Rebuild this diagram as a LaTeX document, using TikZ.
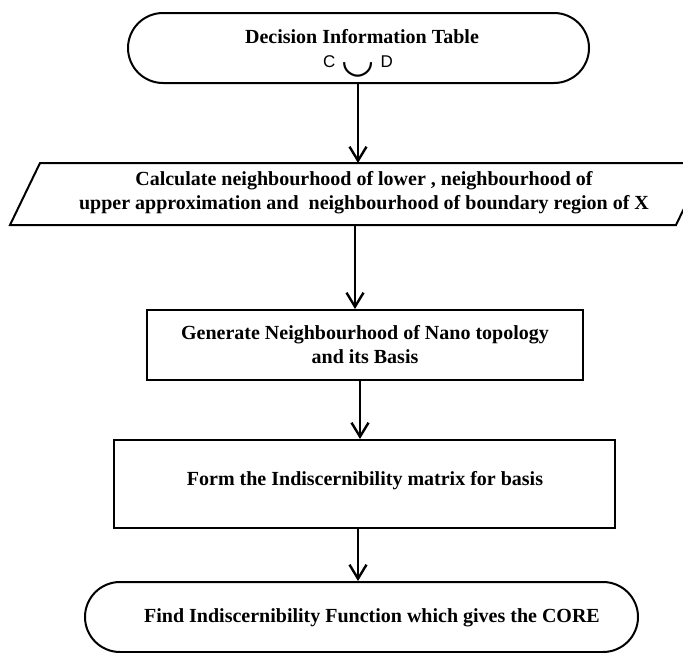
\documentclass[tikz,border=0pt]{standalone}
\usepackage{graphicx}
\usepackage{fontspec}
\setmainfont{Liberation Serif}
\setsansfont{Liberation Sans}
\newfontfamily\cupfont{DejaVu Sans}
\usetikzlibrary{shapes.misc,arrows.meta}

\begin{document}
\begin{tikzpicture}[x=1pt,y=-1pt,
    line width=2pt,
    terminal/.style={draw,rounded rectangle,minimum height=70,inner sep=0pt},
    process/.style={draw,rectangle,inner sep=0pt},
    boxtext/.style={font=\bfseries\fontsize{20}{24}\selectfont,align=center},
    flow/.style={-{Straight Barb[length=14pt,width=17pt]},line width=2.4pt}]
    \useasboundingbox (0,0) rectangle (683,653);

    \node[terminal,minimum width=461] (table) at (358.5,48) {};
    \node[boxtext] (tabletext) at (362,37) {Decision Information Table};
    \node[font=\sffamily\fontsize{17}{20}\selectfont,anchor=base,inner sep=0pt] (cud) at (358,67)
      {C\hspace{6pt}\smash{\raisebox{-5pt}{\cupfont\fontsize{38}{38}\selectfont ◡}}\hspace{6pt}D};

    % slanted input box
    \coordinate (calctop) at (358,163);
    \coordinate (calcbot) at (355,225);
    \draw (40,163) -- (706,163) -- (676,225) -- (10,225) -- cycle;
    \node[boxtext] (calc) at (364,192.5) {Calculate neighbourhood of lower , neighbourhood of\\upper approximation and\ \ neighbourhood of boundary region of X};

    \node[process,minimum width=436,minimum height=70] (gen) at (365,345) {};
    \node[boxtext] (gentext) at (365,345) {Generate Neighbourhood of Nano topology\\and its Basis};

    \node[process,minimum width=501,minimum height=88] (form) at (364.5,484) {};
    \node[boxtext] (formtext) at (365,481) {Form the Indiscernibility matrix for basis};

    \node[terminal,minimum width=553] (core) at (361.5,617) {};
    \node[boxtext] (coretext) at (372,618) {Find Indiscernibility Function which gives the CORE};

    % connectors
    \draw[flow] ([xshift=-0.5pt]table.south) -- ([xshift=-0.5pt]table.south |- calctop);
    \draw[flow] (calcbot) -- (calcbot |- gen.north);
    \draw[flow] ([xshift=-5pt]gen.south) -- ([xshift=-5pt]gen.south |- form.north);
    \draw[flow] ([xshift=-6.5pt]form.south) -- ([xshift=-6.5pt]form.south |- core.north);
\end{tikzpicture}
\end{document}
